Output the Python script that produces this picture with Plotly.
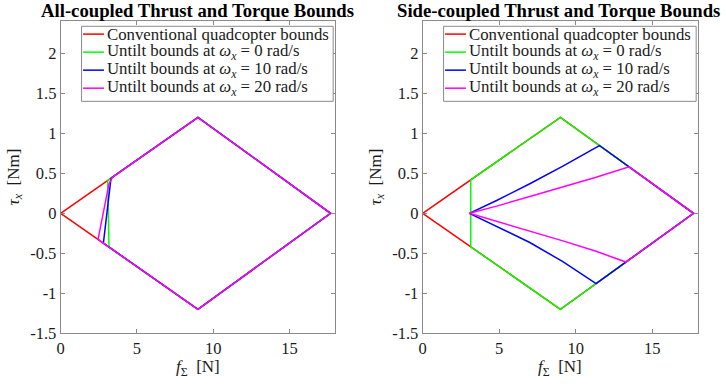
import plotly.graph_objects as go

# ---------------- data ----------------
SERIES_NAMES = [
    "Conventional quadcopter bounds",
    "Untilt bounds at <i>ω<sub>x</sub></i> = 0 rad/s",
    "Untilt bounds at <i>ω<sub>x</sub></i> = 10 rad/s",
    "Untilt bounds at <i>ω<sub>x</sub></i> = 20 rad/s",
]
SERIES_COLORS = ["#ff0000", "#00ff00", "#0000ff", "#ff00ff"]

# Conventional quadcopter bounds (same in both panels)
CONV_X = [0, 9, 17.7, 9, 0]
CONV_Y = [0, 1.2, 0, -1.2, 0]

# All-coupled panel
ALL_W0_X = [3.08, 9, 17.7, 9, 3.17, 3.08]
ALL_W0_Y = [0.41, 1.2, 0, -1.2, -0.423, 0.41]
ALL_W10_X = [3.3, 9, 17.7, 9, 2.8, 3.22, 3.3]
ALL_W10_Y = [0.44, 1.2, 0, -1.2, -0.373, 0.37, 0.44]
ALL_W20_X = [3.4, 9, 17.7, 9, 2.45, 3.17, 3.4]
ALL_W20_Y = [0.453, 1.2, 0, -1.2, -0.327, 0.37, 0.453]

# Side-coupled panel
SIDE_W0_X = [3.14, 9, 17.7, 9, 3.14, 3.14]
SIDE_W0_Y = [0.419, 1.2, 0, -1.2, -0.419, 0.419]
SIDE_W10_X = [3.05, 4.83, 7.0, 9.16, 11.55, 17.7, 11.33, 9.16, 7.0, 4.83, 3.05]
SIDE_W10_Y = [0, 0.16, 0.37, 0.59, 0.848, 0, -0.879, -0.605, -0.365, -0.165, 0]
SIDE_W20_X = [3.05, 4.83, 7.0, 9.16, 11.33, 13.49, 17.7, 13.28, 11.33, 9.16, 7.0, 4.83, 3.05]
SIDE_W20_Y = [0, 0.09, 0.21, 0.33, 0.45, 0.581, 0, -0.61, -0.475, -0.345, -0.22, -0.10, 0]

X_TICKS = [0, 5, 10, 15]
X_TICK_LABELS = ["0", "5", "10", "15"]
Y_TICKS = [-1.5, -1, -0.5, 0, 0.5, 1, 1.5, 2]
Y_TICK_LABELS = ["-1.5", "-1", "-0.5", "0", "0.5", "1", "1.5", "2"]
X_RANGE = [0, 18]
Y_RANGE = [-1.5, 2.4]

TITLES = ["All-coupled Thrust and Torque Bounds", "Side-coupled Thrust and Torque Bounds"]
X_TITLE = "<i>f</i><sub>Σ</sub>  [N]"
Y_TITLE = "<i>τ<sub>x</sub></i>  [Nm]"

# ---------------- figure ----------------
FONT = "Liberation Serif, Times New Roman, serif"
TXT = "#1a1a1a"
AXC = "#8a8a8a"
W, H = 726, 390
fig = go.Figure()

panels = [
    ("x", "y", [(CONV_X, CONV_Y), (ALL_W0_X, ALL_W0_Y), (ALL_W10_X, ALL_W10_Y), (ALL_W20_X, ALL_W20_Y)]),
    ("x2", "y2", [(CONV_X, CONV_Y), (SIDE_W0_X, SIDE_W0_Y), (SIDE_W10_X, SIDE_W10_Y), (SIDE_W20_X, SIDE_W20_Y)]),
]
for xa, ya, series in panels:
    for (sx, sy), name, col in zip(series, SERIES_NAMES, SERIES_COLORS):
        fig.add_trace(go.Scatter(x=sx, y=sy, mode="lines", name=name, showlegend=False,
                                 line=dict(color=col, width=1.5),
                                 xaxis=xa, yaxis=ya))

left_dom = [57 / W, 333 / W]
right_dom = [421 / W, 698 / W]
ydom = [1 - 342 / H, 1 - 22 / H]

axis_common = dict(showgrid=False, zeroline=False, showline=True, linecolor=AXC,
                   linewidth=1, mirror="ticks", ticks="inside", ticklen=4,
                   tickcolor=AXC, tickfont=dict(family=FONT, size=16.5, color=TXT))

fig.update_layout(
    width=W, height=H,
    margin=dict(l=0, r=0, t=0, b=0),
    paper_bgcolor="white", plot_bgcolor="white",
    font=dict(family=FONT, size=16, color=TXT),
    xaxis=dict(domain=left_dom, range=X_RANGE, tickvals=X_TICKS, ticktext=X_TICK_LABELS, anchor="y", **axis_common),
    yaxis=dict(domain=ydom, range=Y_RANGE, tickvals=Y_TICKS, ticktext=Y_TICK_LABELS, anchor="x", **axis_common),
    xaxis2=dict(domain=right_dom, range=X_RANGE, tickvals=X_TICKS, ticktext=X_TICK_LABELS, anchor="y2", **axis_common),
    yaxis2=dict(domain=ydom, range=Y_RANGE, tickvals=Y_TICKS, ticktext=Y_TICK_LABELS, anchor="x2", **axis_common),
    showlegend=False,
)


def px(xp):
    return xp / W


def py(yp):
    return 1 - yp / H


annotations = []
shapes = []
title_centers = [194.5, 557.5]
legend_boxes = [(78, 331), (442, 696)]
row_y = [35, 53.5, 72, 90.5]
for dom, title, tcx, (bx0, bx1) in zip([left_dom, right_dom], TITLES, title_centers, legend_boxes):
    cx = (dom[0] + dom[1]) / 2
    annotations.append(dict(text="<b>" + title + "</b>", x=px(tcx), y=py(11), xref="paper", yref="paper",
                            xanchor="center", yanchor="middle", showarrow=False,
                            font=dict(family=FONT, size=18.7, color="black")))
    annotations.append(dict(text=X_TITLE, x=cx, y=py(378), xref="paper", yref="paper",
                            xanchor="center", yanchor="middle", showarrow=False,
                            font=dict(family=FONT, size=17, color=TXT)))
    annotations.append(dict(text=Y_TITLE, x=px(dom[0] * W - 46), y=py(181), xref="paper", yref="paper",
                            xanchor="center", yanchor="middle", showarrow=False, textangle=-90,
                            font=dict(family=FONT, size=17, color=TXT)))
    # legend box
    shapes.append(dict(type="rect", xref="paper", yref="paper", layer="above",
                       x0=px(bx0), x1=px(bx1), y0=py(104), y1=py(27),
                       fillcolor="white", line=dict(color=AXC, width=1)))
    for ry, name, col in zip(row_y, SERIES_NAMES, SERIES_COLORS):
        shapes.append(dict(type="line", xref="paper", yref="paper", layer="above",
                           x0=px(bx0 + 1.5), x1=px(bx0 + 22.5), y0=py(ry), y1=py(ry),
                           line=dict(color=col, width=1.5)))
        annotations.append(dict(text=name, x=px(bx0 + 24.5), y=py(ry), xref="paper", yref="paper",
                                xanchor="left", yanchor="middle", showarrow=False, borderpad=0,
                                height=18.4,
                                font=dict(family=FONT, size=16.8, color=TXT)))

fig.update_layout(annotations=annotations, shapes=shapes)

fig.write_html("out.html", config={"displayModeBar": False},
               post_script="document.body.style.margin='0';")
